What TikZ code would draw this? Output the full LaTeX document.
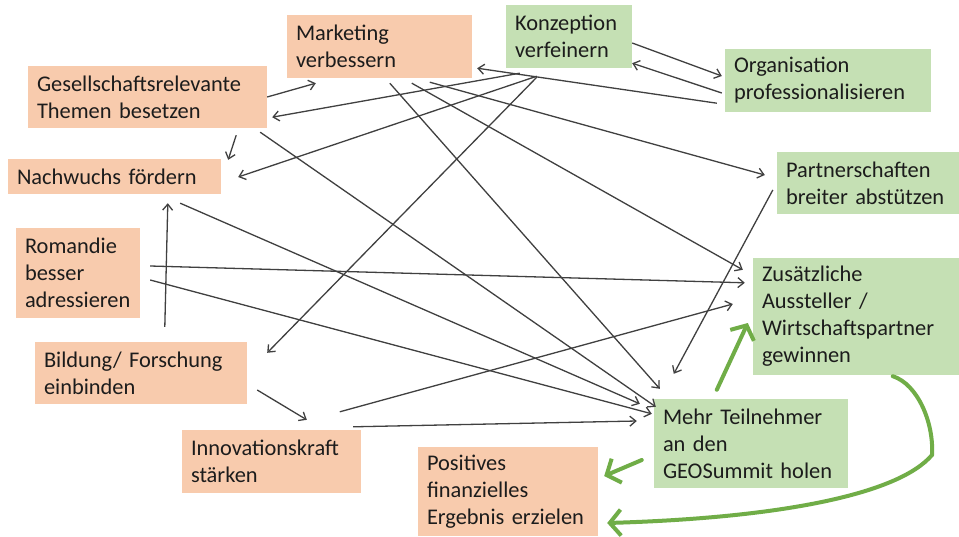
\documentclass[tikz,border=0pt]{standalone}
\usepackage{fontspec}
\setmainfont{Carlito}
\usetikzlibrary{arrows.meta}
\definecolor{boxorange}{HTML}{F8CBAD}
\definecolor{boxgreen}{HTML}{C5E0B4}
\definecolor{linkgray}{HTML}{404040}
\definecolor{boldgreen}{HTML}{70AD47}
\definecolor{txt}{HTML}{1C1C1C}
\tikzset{
  goal/.style={inner xsep=9pt, inner ysep=0pt, align=left, text=txt,
    font=\fontsize{22.4}{27}\selectfont,
    execute at begin node={\hyphenpenalty=10000\relax},
    anchor=center},
  obox/.style={goal, fill=boxorange},
  gbox/.style={goal, fill=boxgreen},
  link/.style={draw=linkgray, line width=1.3pt,
    -{Straight Barb[length=6pt,width=10pt]}},
  boldlink/.style={draw=boldgreen, line width=4pt, line cap=round,
    -{Straight Barb[length=11pt,width=26pt]}},
}
\begin{document}
\begin{tikzpicture}[x=1pt,y=-1pt]
\fill[white] (0,0) rectangle (959,536);
\useasboundingbox (0,0) rectangle (959,536);

% orange goals
\node[obox, text width=167pt, minimum height=63pt] (mkt)  at (379.5,46.5) {Marketing\\verbessern};
\node[obox, text width=221pt, minimum height=62pt] (ges)  at (147.5,97)   {Gesellschaftsrelevante\\Themen besetzen};
\node[obox, text width=195pt, minimum height=35pt] (nach) at (114.5,176.5){Nachwuchs fördern};
\node[obox, text width=106pt, minimum height=90pt] (rom)  at (78,273)     {Romandie\\besser\\adressieren};
\node[obox, text width=194pt, minimum height=62pt] (bild) at (141,373)    {Bildung/ Forschung\\einbinden};
\node[obox, text width=161pt, minimum height=63pt] (inno) at (271.5,461.5){Innovationskraft\\stärken};
\node[obox, text width=162pt, minimum height=89pt] (pos)  at (508,491.5)  {Positives\\finanzielles\\Ergebnis erzielen};

% green goals
\node[gbox, text width=108pt, minimum height=63pt]  (konz) at (569,36.5)   {Konzeption\\verfeinern};
\node[gbox, text width=188pt, minimum height=63pt]  (org)  at (828,80.5)   {Organisation\\professionalisieren};
\node[gbox, text width=164pt, minimum height=62pt]  (part) at (868,183)    {Partnerschaften\\breiter abstützen};
\node[gbox, text width=188pt, minimum height=117pt] (zus)  at (856,316.5)  {Zusätzliche\\Aussteller /\\Wirtschaftspartner\\gewinnen};
\node[gbox, text width=176pt, minimum height=89pt]  (mehr) at (751,443.5)  {Mehr Teilnehmer\\an den\\GEOSummit holen};

% influences
\draw[link] (ges.east) -- ([shift={(29,5)}]mkt.south west);
\draw[link] ([shift={(14,5)}]konz.south west) -- ([shift={(5,-11)}]ges.south east);
\draw[link] ([shift={(31,8)}]konz.south west) -- ([shift={(17,0.5)}]nach.east);
\draw[link] ([shift={(31,9)}]konz.south west) -- ([shift={(20,11)}]bild.north east);
\draw[link] ([shift={(-8,-9)}]org.south west) -- ([shift={(5,-10)}]mkt.south east);
\draw[link] ([shift={(0,6.5)}]konz.east) -- ([shift={(-3,-4.5)}]org.west);
\draw[link] ([shift={(-3,12.5)}]org.west) -- ([shift={(0,-5)}]konz.south east);
\draw[link] ([shift={(103,5)}]mkt.south west) -- ([shift={(6,-10)}]mehr.north west);
\draw[link] ([shift={(125,5)}]mkt.south west) -- ([shift={(-10,12)}]zus.north west);
\draw[link] ([shift={(143,4)}]mkt.south west) -- ([shift={(-12,-8)}]part.west);
\draw[link] ([shift={(-31,7)}]ges.south east) -- ([shift={(7,1)}]nach.north east);
\draw[link] ([shift={(-7,4)}]ges.south east) -- ([shift={(2,8)}]mehr.north west);
\draw[link] ([shift={(-41,9)}]nach.south east) -- ([shift={(-14,5)}]mehr.north west);
\draw[link] ([shift={(10,-7)}]rom.east) -- ([shift={(-8,25)}]zus.north west);
\draw[link] ([shift={(10,7)}]rom.east) -- ([shift={(-2,15)}]mehr.north west);
\draw[link] ([shift={(130,-15)}]bild.north west) -- ([shift={(160,9)}]nach.south west);
\draw[link] ([shift={(10,17)}]bild.east) -- ([shift={(125,-10)}]inno.north west);
\draw[link] ([shift={(158,-18)}]inno.north west) -- ([shift={(-20,-12.5)}]zus.west);
\draw[link] ([shift={(-8,-3)}]inno.north east) -- ([shift={(-17,-22.5)}]mehr.west);
\draw[link] ([shift={(-4,7)}]part.west) -- ([shift={(20,-25)}]mehr.north west);

% main effects
\draw[boldlink] ([shift={(63,-9)}]mehr.north west) -- ([shift={(-5,6.5)}]zus.west);
\draw[boldlink] ([shift={(-12,16.5)}]mehr.west) -- ([shift={(6,-15.5)}]pos.east);
\coordinate (turn) at (932,455);
\draw[boldlink] ([shift={(140,1)}]zus.south west)
  .. controls +(25,8) and +(2,-32) .. (turn)
  .. controls +(-34,40) and +(170,-5) .. ([shift={(9,31.5)}]pos.east);
\end{tikzpicture}
\end{document}
